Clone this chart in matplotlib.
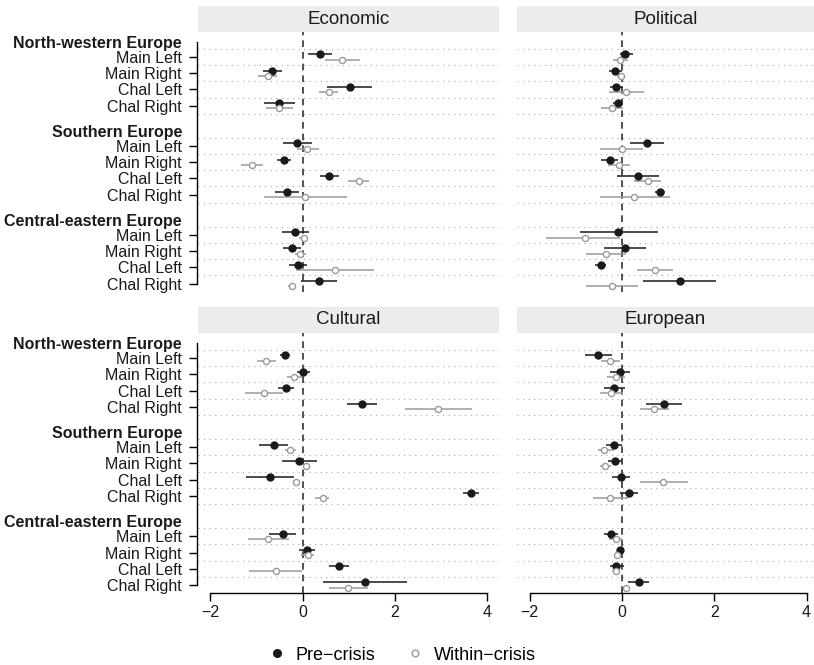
import numpy as np
import matplotlib.pyplot as plt
from matplotlib.lines import Line2D

plt.rcParams['font.family'] = ['Liberation Sans', 'DejaVu Sans']

regions = ['North-western Europe', 'Southern Europe', 'Central-eastern Europe']
parties = ['Main Left', 'Main Right', 'Chal Left', 'Chal Right']
panels = ['Economic', 'Political', 'Cultural', 'European']

# (estimate, lower, upper) per row: NW x4, Southern x4, Central-eastern x4
economic_pre = [(0.37, 0.12, 0.63), (-0.66, -0.85, -0.45), (1.02, 0.53, 1.51), (-0.51, -0.83, -0.17),
                (-0.12, -0.43, 0.20), (-0.40, -0.55, -0.26), (0.58, 0.38, 0.78), (-0.35, -0.60, -0.09),
                (-0.16, -0.45, 0.13), (-0.24, -0.42, -0.04), (-0.11, -0.29, 0.09), (0.35, -0.04, 0.75)]
economic_within = [(0.86, 0.48, 1.24), (-0.76, -0.96, -0.56), (0.56, 0.35, 0.76), (-0.51, -0.79, -0.22),
                   (0.10, -0.13, 0.35), (-1.10, -1.34, -0.85), (1.21, 0.99, 1.43), (0.06, -0.84, 0.95),
                   (0.02, -0.07, 0.11), (-0.06, -0.17, 0.07), (0.70, -0.14, 1.55), (-0.24, -0.31, -0.17)]
political_pre = [(0.07, -0.04, 0.23), (-0.15, -0.29, -0.01), (-0.12, -0.25, 0.02), (-0.09, -0.19, 0.01),
                 (0.55, 0.17, 0.92), (-0.27, -0.45, -0.09), (0.35, -0.11, 0.81), (0.82, 0.71, 0.94),
                 (-0.08, -0.90, 0.77), (0.06, -0.38, 0.52), (-0.46, -0.58, -0.35), (1.25, 0.45, 2.04)]
political_within = [(-0.04, -0.20, 0.13), (-0.03, -0.11, 0.05), (0.09, -0.29, 0.48), (-0.22, -0.45, 0.02),
                    (-0.01, -0.48, 0.45), (-0.06, -0.31, 0.18), (0.56, 0.27, 0.85), (0.27, -0.48, 1.03),
                    (-0.81, -1.64, -0.05), (-0.34, -0.77, 0.09), (0.71, 0.32, 1.10), (-0.22, -0.79, 0.34)]
cultural_pre = [(-0.38, -0.49, -0.27), (0.01, -0.12, 0.16), (-0.36, -0.53, -0.19), (1.29, 0.96, 1.62),
                (-0.62, -0.94, -0.31), (-0.07, -0.45, 0.32), (-0.71, -1.23, -0.19), (3.65, 3.48, 3.83),
                (-0.43, -0.72, -0.14), (0.09, -0.09, 0.27), (0.78, 0.56, 1.01), (1.35, 0.43, 2.27)]
cultural_within = [(-0.79, -1.00, -0.58), (-0.18, -0.33, -0.02), (-0.84, -1.26, -0.42), (2.94, 2.21, 3.67),
                   (-0.27, -0.38, -0.15), (0.07, 0.00, 0.14), (-0.14, -0.22, -0.05), (0.43, 0.27, 0.58),
                   (-0.76, -1.19, -0.30), (0.11, -0.04, 0.25), (-0.58, -1.16, -0.02), (0.99, 0.57, 1.41)]
european_pre = [(-0.52, -0.81, -0.22), (-0.05, -0.27, 0.17), (-0.17, -0.38, 0.06), (0.90, 0.51, 1.29),
                (-0.18, -0.35, 0.00), (-0.16, -0.31, -0.01), (-0.02, -0.22, 0.18), (0.15, -0.04, 0.34),
                (-0.23, -0.38, -0.09), (-0.04, -0.11, 0.04), (-0.12, -0.27, 0.05), (0.37, 0.14, 0.59)]
european_within = [(-0.25, -0.45, -0.05), (-0.13, -0.32, 0.07), (-0.23, -0.48, 0.02), (0.69, 0.38, 1.01),
                   (-0.38, -0.53, -0.17), (-0.37, -0.48, -0.24), (0.89, 0.38, 1.42), (-0.25, -0.63, 0.14),
                   (-0.14, -0.29, 0.00), (-0.10, -0.18, -0.02), (-0.12, -0.22, -0.04), (0.09, 0.02, 0.16)]

pre_data = [economic_pre, political_pre, cultural_pre, european_pre]
within_data = [economic_within, political_within, cultural_within, european_within]

W, H = 814, 665
fig = plt.figure(figsize=(W / 100, H / 100), dpi=100)

# row positions (row 0 = first "Main Left", groups shifted by 5.5 rows)
starts = [0, 5.5, 11]
rows = np.array([s + k for s in starts for k in range(4)])
heads = np.array([s - 0.95 for s in starts])
off = 0.165

black = '#1a1a1a'
grey = '#9a9a9a'

# pixel boxes (left, top, right, bottom) of each panel
boxes = [(198, 32, 499, 291.6), (517, 32, 814, 291.6),
         (198, 333, 499, 593), (517, 333, 814, 593)]
strip_h = 26

for i, name in enumerate(panels):
    l, t, r, b = boxes[i]
    ax = fig.add_axes([l / W, 1 - b / H, (r - l) / W, (b - t) / H])
    sax = fig.add_axes([l / W, 1 - t / H, (r - l) / W, strip_h / H])
    sax.set_facecolor('#ececec')
    sax.set_xticks([])
    sax.set_yticks([])
    for s in sax.spines.values():
        s.set_visible(False)
    sax.text(0.5, 0.5, name, ha='center', va='center', fontsize=13.5, color=black,
             transform=sax.transAxes)

    x0 = 302.7 if l < 300 else 622
    unit = 46.15
    ax.set_xlim((l - x0) / unit, (r - x0) / unit)
    ax.set_ylim(14.5, -1.55)

    # dotted separators between rows
    for gi, s in enumerate(starts):
        n = 5 if gi < 2 else 4
        for k in range(n):
            ax.axhline(s + k - 0.5, color='#a8a8a8', lw=0.8, ls=(0, (1, 4)), zorder=1)
    ax.axvline(0, color='#333333', lw=1.2, ls=(0, (4, 3)), zorder=2)

    pre = np.array(pre_data[i])
    wit = np.array(within_data[i])
    ax.hlines(rows - off, pre[:, 1], pre[:, 2], color=black, lw=1.1, zorder=3)
    ax.plot(pre[:, 0], rows - off, 'o', color=black, ms=5.0, zorder=4)
    ax.hlines(rows + off, wit[:, 1], wit[:, 2], color=grey, lw=1.1, zorder=3)
    ax.plot(wit[:, 0], rows + off, 'o', mfc='white', mec=grey, ms=4.4, mew=1.0, zorder=4)

    for s in ['top', 'right']:
        ax.spines[s].set_visible(False)

    if i % 2 == 0:
        ax.spines['left'].set_bounds(heads[0], rows[-1])
        ax.spines['left'].set_position(('outward', 1))
        ax.spines['left'].set_linewidth(1.0)
        ticks = list(heads) + list(rows)
        labels = regions + parties * 3
        ax.set_yticks(ticks)
        ax.set_yticklabels(labels)
        ax.tick_params(axis='y', length=5.5, width=1.0, pad=5, labelsize=11.5, labelcolor=black)
        for j, tk in enumerate(ax.yaxis.get_major_ticks()):
            if j < 3:
                tk.tick1line.set_visible(False)
                tk.label1.set_fontweight('bold')
    else:
        ax.spines['left'].set_visible(False)
        ax.set_yticks([])

    if i >= 2:
        ax.spines['bottom'].set_bounds(-2, 4)
        ax.spines['bottom'].set_linewidth(1.0)
        ax.set_xticks([-2, 0, 2, 4])
        ax.tick_params(axis='x', length=5.5, width=1.0, pad=3, labelsize=11.5, labelcolor=black)
    else:
        ax.spines['bottom'].set_visible(False)
        ax.set_xticks([])
    ax.set_facecolor('none')

handles = [Line2D([], [], marker='o', ls='', color=black, ms=5.5),
           Line2D([], [], marker='o', ls='', mfc='white', mec=grey, ms=4.8, mew=1.0)]
fig.legend(handles, ['Pre\u2212crisis', 'Within\u2212crisis'], loc='center',
           bbox_to_anchor=(403 / W, 1 - 655 / H), ncol=2, frameon=False,
           fontsize=13, handlelength=0.8, handletextpad=0.65, columnspacing=1.8)

fig.savefig('out.png', dpi=100)
